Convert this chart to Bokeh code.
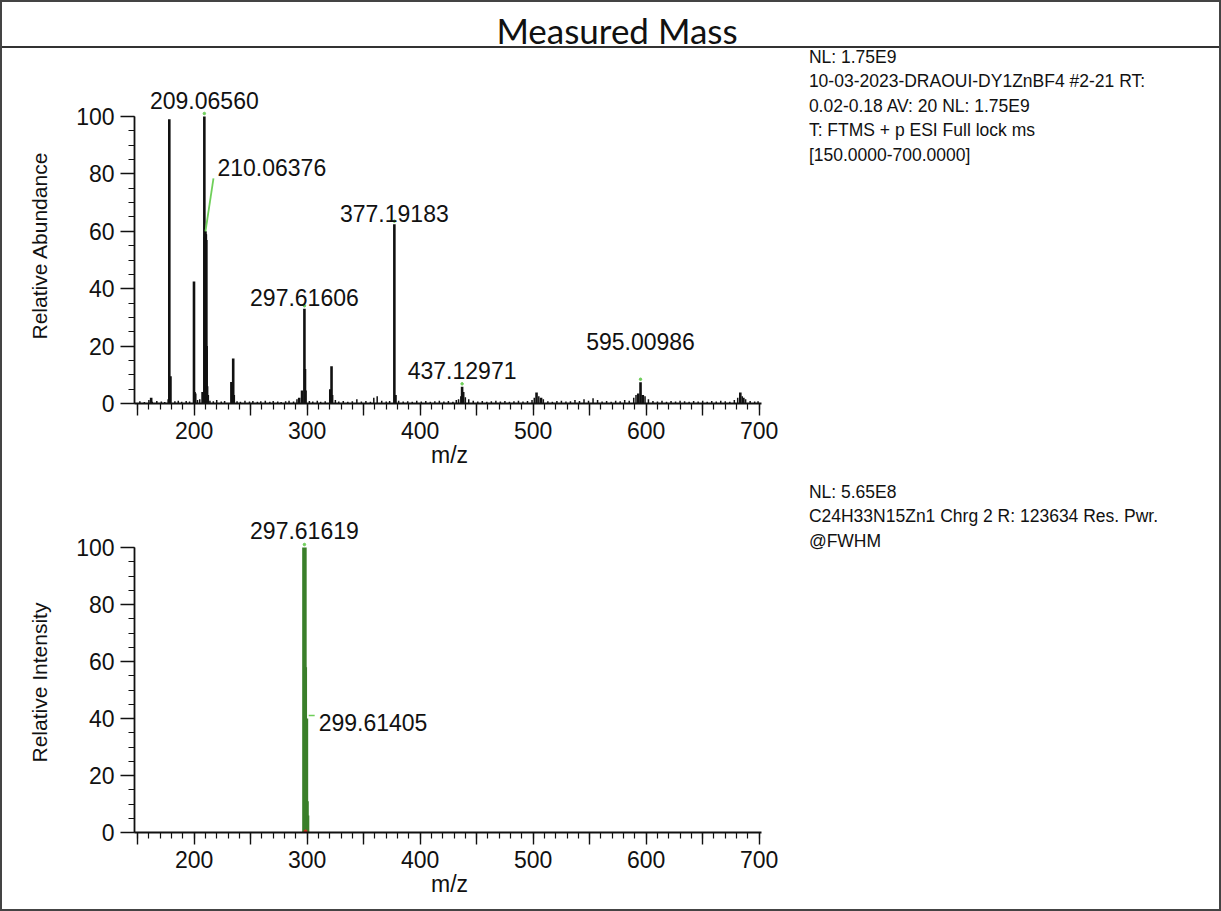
from bokeh.plotting import figure
from bokeh.models import ColumnDataSource, FixedTicker, Title, Div
from bokeh.layouts import column
from bokeh.embed import file_html
from bokeh.resources import INLINE
from bokeh.core.properties import value

# ---------------- data ----------------
title_text = "Measured Mass"
x_major_ticks = [150, 200, 250, 300, 350, 400, 450, 500, 550, 600, 650, 700]
x_minor_ticks = list(range(150, 701, 10))
x_tick_labels = {150: "", 200: "200", 250: "", 300: "300", 350: "", 400: "400",
                 450: "", 500: "500", 550: "", 600: "600", 650: "", 700: "700"}
y_major_ticks = [0, 20, 40, 60, 80, 100]
y_minor_ticks = list(range(0, 101, 5))
x_axis_title = "m/z"
top_y_title = "Relative Abundance"
bottom_y_title = "Relative Intensity"

# measured spectrum: main peaks
top_peak_mz = [177.5, 178.06, 179.07, 162.0, 199.9, 200.4, 201.0, 207.5, 209.0656,
               209.45, 209.8, 210.06376, 210.4, 210.8, 211.1, 211.5, 212.1,
               233.0, 234.6, 235.1, 293.0, 295.5, 297.61606, 298.117, 298.6,
               320.5, 321.6, 322.1, 377.19183, 378.2, 436.5, 437.12971, 438.1,
               503.0, 507.0, 593.0, 595.00986, 597.0, 683.3, 686.0]
top_peak_int = [1.5, 99.0, 9.5, 2.0, 42.5, 4.0, 3.5, 4.0, 100.0,
                58.0, 59.0, 60.0, 59.0, 57.0, 20.0, 6.0, 3.0,
                7.5, 15.7, 3.0, 2.0, 4.5, 33.0, 12.0, 4.5,
                5.0, 13.0, 3.0, 62.5, 3.0, 2.5, 5.8, 4.0,
                3.8, 2.0, 3.5, 7.4, 3.0, 3.8, 2.0]

# measured spectrum: baseline noise
noise_mz = [152, 156, 160, 163, 167, 171, 174, 183, 186, 189, 193, 196, 203, 205, 214, 217,
            220, 224, 227, 238, 241, 245, 249, 252, 256, 259, 263, 267, 270, 274, 277, 281,
            284, 288, 291, 302, 305, 309, 312, 316, 325, 328, 332, 336, 340, 344, 348, 352,
            356, 359, 362, 366, 370, 373, 381, 385, 389, 393, 397, 401, 405, 409, 413, 417,
            421, 425, 429, 432, 434, 440, 443, 447, 451, 455, 459, 463, 467, 471, 475, 479,
            483, 487, 491, 495, 499, 501, 505, 509, 513, 517, 521, 525, 529, 533, 537, 541,
            545, 549, 553, 557, 561, 565, 569, 573, 577, 581, 585, 589, 591, 599, 602, 606,
            610, 614, 618, 622, 626, 630, 634, 638, 642, 646, 650, 654, 658, 662, 666, 670,
            674, 678, 681, 685, 688, 692, 696, 699]
noise_int = [0.8, 0.5, 1.2, 0.6, 0.9, 0.7, 0.5, 0.8, 1.0, 0.6, 0.9, 0.7, 1.2, 1.5, 1.0, 0.8,
             1.2, 0.7, 0.9, 0.8, 0.6, 1.0, 0.7, 0.9, 0.6, 0.8, 1.0, 0.6, 0.9, 0.7, 0.5, 0.8,
             1.0, 0.7, 1.5, 0.9, 0.7, 1.0, 0.6, 0.8, 1.2, 0.7, 0.9, 0.6, 0.8, 1.5, 0.7, 0.9,
             0.6, 2.0, 2.5, 1.0, 0.7, 0.9, 1.0, 0.7, 0.8, 0.6, 1.0, 0.7, 0.9, 0.6, 0.8, 1.0,
             0.7, 0.9, 0.6, 1.2, 1.5, 2.2, 1.5, 1.0, 0.7, 0.9, 0.6, 0.8, 1.0, 0.7, 0.9, 0.6,
             0.8, 1.0, 0.7, 0.9, 1.2, 2.0, 2.5, 1.5, 0.8, 0.6, 0.9, 1.0, 0.7, 0.8, 1.2, 0.9,
             1.5, 1.0, 1.8, 1.2, 0.7, 0.9, 0.6, 1.0, 0.8, 1.2, 1.0, 2.0, 3.0, 2.5, 1.5, 0.9,
             0.7, 1.0, 0.6, 0.9, 0.7, 1.0, 0.8, 0.6, 0.9, 0.7, 1.0, 0.6, 0.9, 0.7, 1.0, 0.8,
             0.6, 1.2, 2.0, 2.5, 1.5, 0.9, 0.7, 0.8]

top_label_mz = [209.06560, 297.61606, 377.19183, 437.12971, 595.00986]
top_label_int = [100.0, 33.0, 62.5, 5.8, 7.4]
top_label_text = ["209.06560", "297.61606", "377.19183", "437.12971", "595.00986"]
top_side_label_mz = [210.06376]
top_side_label_int = [60.0]
top_side_label_text = ["210.06376"]

top_info = ["NL: 1.75E9",
            "10-03-2023-DRAOUI-DY1ZnBF4 #2-21  RT:",
            "0.02-0.18 AV: 20 NL: 1.75E9",
            "T: FTMS + p ESI Full lock ms",
            "[150.0000-700.0000]"]

# simulated isotope pattern
bottom_mz = [298.11786, 298.61486, 299.11612, 299.61405, 300.11503, 300.61342, 297.61619]
bottom_int = [27.0, 58.0, 17.0, 40.0, 11.0, 6.0, 100.0]
bottom_label_mz = [297.61619]
bottom_label_int = [100.0]
bottom_label_text = ["297.61619"]
bottom_side_label_mz = [299.61405]
bottom_side_label_int = [40.0]
bottom_side_label_text = ["299.61405"]

bottom_info = ["NL: 5.65E8",
               "C24H33N15Zn1   Chrg 2 R: 123634 Res. Pwr.",
               "@FWHM"]

# ---------------- layout / style constants ----------------
FIG_W = 1217
LEFT = 131                       # frame left inside figure (page x 133)
FRAME_W = FIG_W - LEFT
PX_PER_MZ = 1.1312
X0 = 147.26
X1 = X0 + FRAME_W / PX_PER_MZ
AXIS_END = 701.8
PAGE_FRAME_LEFT = 133
FONT = value("Liberation Sans")
BLACK = "#111111"
GREEN = "#3a7f2a"
LGREEN = "#6fcf5a"
top_label_rise_px = [16, 11, 11, 16, 41]   # label centre above peak tip
bottom_label_rise_px = [17]


def data_x(page_x):
    return X0 + (page_x - PAGE_FRAME_LEFT) / PX_PER_MZ


def make_axes(p):
    p.xaxis.ticker = FixedTicker(ticks=x_major_ticks, minor_ticks=x_minor_ticks)
    p.xaxis.major_label_overrides = x_tick_labels
    p.yaxis.ticker = FixedTicker(ticks=y_major_ticks, minor_ticks=y_minor_ticks)
    p.xaxis.bounds = (X0, AXIS_END)
    p.yaxis.bounds = (0, 100)
    for ax in (p.xaxis, p.yaxis):
        ax.axis_line_color = BLACK
        ax.axis_line_width = 1.8
        ax.major_tick_line_color = BLACK
        ax.minor_tick_line_color = BLACK
        ax.major_tick_line_width = 1.4
        ax.minor_tick_line_width = 1.2
        ax.major_tick_in = 0
        ax.minor_tick_in = 0
        ax.major_label_text_font = "Liberation Sans"
        ax.major_label_text_font_size = "23px"
        ax.major_label_text_color = BLACK
    p.xaxis.major_tick_out = 12
    p.xaxis.minor_tick_out = 6
    p.yaxis.major_tick_out = 14
    p.yaxis.minor_tick_out = 6
    p.xaxis.major_label_standoff = 6
    p.yaxis.major_label_standoff = 6
    p.xgrid.visible = False
    p.ygrid.visible = False


def base_fig(frame_top, frame_bottom, fig_bottom, ppu):
    frame_h = frame_bottom - frame_top
    p = figure(width=FIG_W, height=fig_bottom - frame_top, output_backend="svg",
               toolbar_location=None, title=None, x_range=(X0, X1),
               y_range=(0, frame_h / ppu),
               min_border_left=LEFT, min_border_right=0, min_border_top=0,
               min_border_bottom=fig_bottom - frame_bottom)
    p.outline_line_color = None
    p.background_fill_color = "white"
    p.border_fill_color = "white"
    return p


def axis_titles(p, ytitle, ytitle_len_px, y_mid, frame_bottom):
    xt_len = 37
    p.add_layout(Title(text=x_axis_title, align="left",
                       offset=448 - xt_len / 2 - PAGE_FRAME_LEFT,
                       standoff=-4, text_font="Liberation Sans", text_font_size="23px",
                       text_font_style="normal", text_color=BLACK), "below")
    p.add_layout(Title(text=ytitle, align="left",
                       offset=frame_bottom - (y_mid + ytitle_len_px / 2),
                       standoff=46, text_font="Liberation Sans", text_font_size="21px",
                       text_font_style="normal", text_color=BLACK), "left")


# ---------------- title bar ----------------
title_html = ('<div style="box-sizing:border-box;width:' + str(FIG_W) + 'px;height:46px;'
              'padding-top:6px;line-height:44px;border-bottom:2px solid #333333;'
              'text-align:center;padding-left:13px;font-family:Lato;font-size:35px;'
              'color:#111111;white-space:nowrap;">' + title_text + '</div>')
title_div = Div(text=title_html, width=FIG_W, height=46, margin=0)

# ---------------- top: measured ----------------
PPU1 = 2.87
T1, B1, E1 = 48, 403, 478
p1 = base_fig(T1, B1, E1, PPU1)
make_axes(p1)
axis_titles(p1, top_y_title, 188, 245, B1)
p1.segment(x0=noise_mz, y0=[0] * len(noise_mz), x1=noise_mz, y1=noise_int,
           line_color=BLACK, line_width=1.5)
p1.segment(x0=top_peak_mz, y0=[0] * len(top_peak_mz), x1=top_peak_mz, y1=top_peak_int,
           line_color=BLACK, line_width=2.6)
src1 = ColumnDataSource(dict(x=top_label_mz, y=top_label_int, t=top_label_text,
                             yd=[v + 3 / PPU1 for v in top_label_int],
                             yt=[v + r / PPU1 for v, r in zip(top_label_int, top_label_rise_px)]))
p1.scatter(x="x", y="yd", source=src1, size=2.5, color=LGREEN)
p1.text(x="x", y="yt", text="t", source=src1, text_align="center",
        text_baseline="middle", text_font=FONT, text_font_size="23px", text_color=BLACK)
# displaced label with leader line
p1.segment(x0=top_side_label_mz, y0=top_side_label_int,
           x1=[m + 8 / PX_PER_MZ for m in top_side_label_mz],
           y1=[v + 53 / PPU1 for v in top_side_label_int],
           line_color=LGREEN, line_width=1.8)
p1.text(x=top_side_label_mz, y=top_side_label_int, text=top_side_label_text,
        text_align="left", text_baseline="middle", x_offset=12, y_offset=-64,
        text_font=FONT, text_font_size="23px", text_color=BLACK)
# info block
p1.text(x=[data_x(808)] * len(top_info),
        y=[(B1 - 56) / PPU1 - i * 24.5 / PPU1 for i in range(len(top_info))],
        text=top_info, text_align="left", text_baseline="middle",
        text_font=FONT, text_font_size="17.5px", text_color=BLACK)

# ---------------- bottom: simulated ----------------
PPU2 = 2.85
T2, B2, E2 = 478, 832, 909
p2 = base_fig(T2, B2, E2, PPU2)
make_axes(p2)
axis_titles(p2, bottom_y_title, 160, 682, B2)
p2.segment(x0=bottom_mz[:-1], y0=[0] * (len(bottom_mz) - 1), x1=bottom_mz[:-1],
           y1=bottom_int[:-1], line_color=GREEN, line_width=3.0)
p2.segment(x0=bottom_mz[-1:], y0=[0], x1=bottom_mz[-1:], y1=bottom_int[-1:],
           line_color=GREEN, line_width=4.5)
p2.scatter(x=[bottom_mz[1]], y=[0.4], size=3, color="#d03020")
src2 = ColumnDataSource(dict(x=bottom_label_mz, y=bottom_label_int, t=bottom_label_text,
                             yd=[v + 3 / PPU2 for v in bottom_label_int],
                             yt=[v + r / PPU2 for v, r in zip(bottom_label_int, bottom_label_rise_px)]))
p2.scatter(x="x", y="yd", source=src2, size=2.5, color=LGREEN)
p2.text(x="x", y="yt", text="t", source=src2, text_align="center",
        text_baseline="middle", text_font=FONT, text_font_size="23px", text_color=BLACK)
p2.segment(x0=[m + 2 / PX_PER_MZ for m in bottom_side_label_mz],
           y0=[v + 3 / PPU2 for v in bottom_side_label_int],
           x1=[m + 8 / PX_PER_MZ for m in bottom_side_label_mz],
           y1=[v + 3 / PPU2 for v in bottom_side_label_int],
           line_color=LGREEN, line_width=1.5)
p2.text(x=bottom_side_label_mz, y=bottom_side_label_int, text=bottom_side_label_text,
        text_align="left", text_baseline="middle", x_offset=12, y_offset=4,
        text_font=FONT, text_font_size="23px", text_color=BLACK)
p2.text(x=[data_x(808)] * len(bottom_info),
        y=[(B2 - 491) / PPU2 - i * 24.5 / PPU2 for i in range(len(bottom_info))],
        text=bottom_info, text_align="left", text_baseline="middle",
        text_font=FONT, text_font_size="17.5px", text_color=BLACK)

layout = column(title_div, p1, p2, spacing=0, styles={"border": "2px solid #444444"})
open("out.html", "w").write(file_html(layout, INLINE))
